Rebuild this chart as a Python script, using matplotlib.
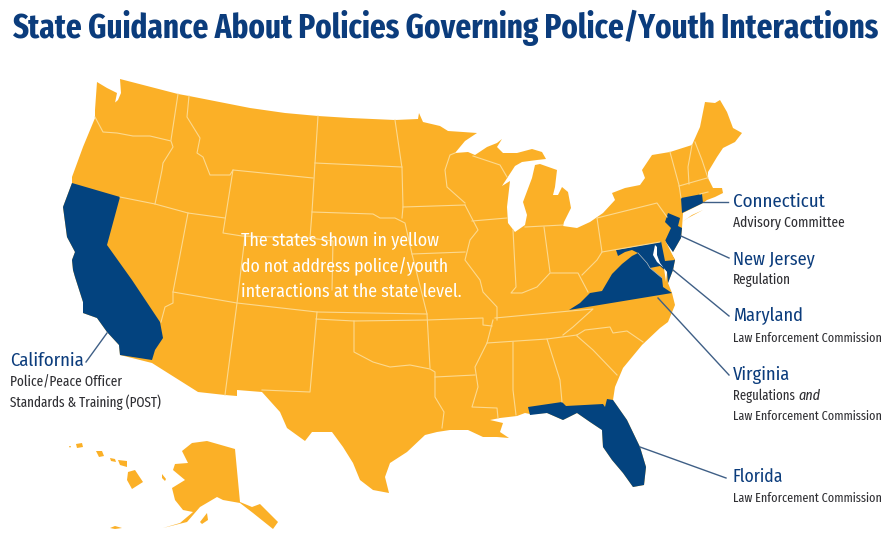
import matplotlib
matplotlib.use("Agg")
import matplotlib.pyplot as plt
from matplotlib import font_manager

YELLOW = "#fbb027"
BLUE = "#03437f"
BORDER = "#fbd98f"
DARK = "#2f2f33"
TITLE_BLUE = "#0b3c7c"

# outlines in image pixels
lower48 = [(97,82),(107,88),(117,93),(115,103),(110,107),(118,100),(121,93),(120,79),(178,94),(189,96),(250,108),
    (285,113),(318,116),(350,118),(395,120),(418,119),(419,113),(423,122),(440,126),(448,131),(463,132),(477,133),(465,141),
    (455,153),(468,152),(475,155),(487,147),(497,143),(502,139),(497,147),(503,153),(517,153),(532,149),(542,152),
    (546,159),(537,160),(522,162),(515,166),(502,186),(510,181),(507,207),(508,223),(515,232),(525,225),(527,215),
    (523,202),(532,178),(535,165),(540,164),(557,170),(555,187),(553,195),(558,195),(562,187),(568,192),(571,208),
    (564,222),(563,226),(577,228),(590,222),(603,213),(615,200),(612,193),(625,188),(640,185),(645,178),(642,170),
    (652,155),(670,152),(692,145),(700,127),(705,102),(715,103),(720,100),(727,112),(733,128),(742,133),(735,142),
    (723,148),(717,157),(708,172),(708,178),(713,188),(722,188),(723,193),(715,197),(707,200),(703,203),(683,213),
    (682,228),(681,238),(673,252),(666,241),(663,241),(675,260),(673,270),(668,283),(672,293),(675,305),
    (668,322),(660,328),(642,345),(623,368),(615,387),(613,400),(627,420),(640,447),(646,467),(644,485),(633,487),
    (623,473),(612,460),(603,447),(602,430),(590,422),(577,413),(563,420),(547,413),(530,414),(525,413),(517,416),
    (500,418),(490,420),(503,423),(500,432),(509,438),(497,437),(483,437),(468,430),(450,430),(437,432),(425,435),
    (407,452),(390,463),(385,477),(389,493),(373,490),(360,480),(353,463),(343,447),(332,432),(312,432),(305,441),
    (287,428),(280,412),(262,392),(237,390),(237,396),(225,395),(198,392),(152,363),(120,355),(119,345),(107,332),
    (97,318),(83,313),(83,302),(75,277),(73,270),(72,260),(75,252),(67,237),(63,207),(72,183),(72,177),(83,147),
    (95,118),(95,110)]
long_island = [(682,222),(692,215),(703,210),(688,218)]
alaska = [(182,451),(192,443),(207,441),(235,449),(240,502),(252,507),(260,504),(278,522),(273,529),(253,513),
    (240,503),(223,500),(217,497),(200,507),(187,522),(163,528),(180,523),(193,512),(183,510),(175,500),(172,488),
    (185,480),(173,470),(175,464),(188,463)]
kodiak = [(200,522),(207,513),(208,520),(202,524)]
nunivak = [(162,474),(166,479),(165,481),(162,478)]
aleutians = [(110,528),(115,526),(122,528),(115,529)]
hawaii = [(128,472),(135,470),(143,482),(132,489),(127,480)]
maui = [(118,460),(127,461),(127,467),(120,465)]
molokai = [(110,458),(115,459),(116,462),(111,461)]
oahu = [(96,451),(102,451),(104,456),(99,457)]
kauai = [(76,444),(82,443),(83,447),(77,448)]
niihau = [(69,446),(71,446),(70,448)]

california = [(72,183),(120,197),(107,245),(132,280),(160,322),(163,338),(155,350),(152,360),(120,355),(119,345),
    (107,332),(97,318),(83,313),(83,302),(75,277),(73,270),(72,260),(75,252),(67,237),(63,207),(72,183)]
florida = [(528,407),(562,402),(566,406),(603,404),(605,407),(607,399),(613,400),(627,420),(640,447),(646,467),
    (644,485),(633,487),(623,473),(612,460),(603,447),(602,430),(590,422),(577,413),(563,420),(547,413),(530,415)]
virginia = [(569,310),(580,303),(590,293),(602,291),(612,274),(622,264),(632,256),(638,253),(647,263),(650,268),
    (662,278),(663,287),(672,293)]
maryland = [(616,250),(660,242),(663,241),(675,260),(673,270),(668,283),(667,272),(660,266),(650,268),(647,263),
    (638,253),(632,250),(625,252),(618,256)]
delaware = [(661,241),(665,240),(675,260),(665,261)]
new_jersey = [(668,213),(680,218),(678,226),(682,228),(681,238),(673,252),(665,241),(671,228),(665,222)]
connecticut = [(681,198),(702,194),(703,203),(682,213)]
chesapeake = [(655,245),(653,255),(657,262),(664,268),(666,282),(667,272),(660,263),(657,255),(657,247)]

state_lines = [
    [(178,94),(171,140)],
    [(95,117),(103,132),(117,133),(133,136),(150,136),(171,141),(173,147),(163,163),(162,170),(155,204)],
    [(120,197),(155,204),(188,213),(225,218)],
    [(189,96),(187,117),(200,138),(197,153),(203,157),(210,175),(230,175),(233,170),(313,178)],
    [(233,170),(223,233),(242,236),(310,238)],
    [(318,116),(315,163),(312,212),(310,238),(333,241),(332,290)],
    [(188,213),(173,292),(173,303),(165,307),(161,322)],
    [(173,292),(237,303),(317,312),(427,314)],
    [(245,236),(237,303),(225,395)],
    [(317,312),(310,392),(262,390)],
    [(316,319),(354,321),(427,320),(483,318),(483,325),(492,326)],
    [(315,163),(402,167)],
    [(312,212),(373,214),(380,218),(395,218),(405,223),(412,254),(427,314),(430,368)],
    [(395,120),(402,168),(403,207),(402,218)],
    [(403,207),(465,205)],
    [(354,321),(354,352),(373,362),(390,367),(410,365),(430,369),(435,372),(435,397),(444,412),(442,428)],
    [(435,377),(475,375)],
    [(493,320),(487,343),(475,367),(478,387),(472,407),(497,408),(498,418)],
    [(487,343),(547,339),(577,335)],
    [(495,318),(570,311),(593,309),(573,327),(563,335)],
    [(577,335),(585,330),(610,327),(613,333),(627,331),(643,342)],
    [(577,336),(593,350),(617,375)],
    [(513,342),(513,390),(516,415)],
    [(547,339),(560,380),(562,402)],
    [(412,254),(465,252)],
    [(465,205),(478,230),(470,240),(465,260),(480,280),(483,292),(497,307),(497,320)],
    [(455,153),(450,155),(445,170),(447,187),(465,203)],
    [(472,221),(507,218)],
    [(473,156),(500,165),(507,177)],
    [(513,230),(516,287),(511,293),(522,293),(537,287),(550,273),(567,273),(578,273),(588,292)],
    [(544,227),(550,272)],
    [(525,227),(563,225)],
    [(597,218),(602,252),(597,260),(582,275)],
    [(597,218),(657,203),(667,217)],
    [(602,252),(660,242)],
    [(670,152),(679,185),(681,198)],
    [(679,186),(707,178)],
    [(692,145),(688,167),(689,184)],
    [(695,142),(702,160),(708,178)],
    [(700,194),(708,192)],
]

state_names = ["Connecticut", "New Jersey", "Maryland", "Virginia", "Florida"]
name_y = [202, 259, 316, 375, 477]
name_width = [92, 82, 70, 57, 50]
state_notes = [["Advisory Committee"], ["Regulation"], ["Law Enforcement Commission"],
    ["Regulations", "Law Enforcement Commission"], ["Law Enforcement Commission"]]
note_y = [[223], [280], [338], [396, 416], [498]]
note_width = [[112], [58], [149], [62, 149], [149]]
leaders = [[(703,202),(728,202)], [(681,236),(729,258)], [(673,270),(729,316)], [(658,298),(729,375)],
    [(640,447),(726,478)], [(107,333),(86,362)]]
white_lines = ["The states shown in yellow", "do not address police/youth", "interactions at the state level."]
white_y = [241, 267, 292]
white_width = [198, 208, 220]


def pick_font(names):
    # first of these that is installed, fit shrinks the plain one if none is
    installed = {f.name for f in font_manager.fontManager.ttflist}
    for name in names:
        if name in installed:
            return name
    return "Liberation Sans"


narrow = pick_font(["Fira Sans Condensed", "Asap Condensed", "Liberation Sans Narrow"])
tighter = pick_font(["Fira Sans Extra Condensed", "Barlow Condensed", "Asap Condensed", "Liberation Sans Narrow"])

fig = plt.figure(figsize=(8.93, 5.42), dpi=100)
ax = fig.add_axes([0, 0, 1, 1])
ax.set_xlim(0, 893)
ax.set_ylim(542, 0)
ax.axis("off")


def fit(x, y, s, width, color, font=narrow, **kw):
    # set the font size so the text is as wide as in the picture
    t = ax.text(x, y, s, family=font, fontsize=10, color=color, va="center", **kw)
    box = t.get_window_extent(fig.canvas.get_renderer())
    t.set_fontsize(10 * width / box.width)
    return t


for shape in [lower48, long_island, alaska, kodiak, nunivak, aleutians, hawaii, maui, molokai, oahu, kauai, niihau]:
    ax.fill(*zip(*shape), color=YELLOW, lw=0)
for line in state_lines:
    ax.plot(*zip(*line), color=BORDER, lw=0.8, solid_joinstyle="round")
for shape in [california, florida, virginia, maryland, new_jersey, connecticut]:
    ax.fill(*zip(*shape), color=BLUE, lw=0)
ax.fill(*zip(*delaware), color=YELLOW, lw=0)
ax.fill(*zip(*chesapeake), color="white", lw=0)
ax.plot([638,647,650,662], [253,263,268,278], color="#9fb4c9", lw=0.5)

for line in leaders:
    ax.plot(*zip(*line), color="#3f5f86", lw=1)

fit(12, 28, "State Guidance About Policies Governing Police/Youth Interactions", 868, TITLE_BLUE,
    font=tighter, fontweight="bold")

for name, y, w, notes, ys, ws in zip(state_names, name_y, name_width, state_notes, note_y, note_width):
    fit(733, y, name, w, TITLE_BLUE)
    for note, ny, nw in zip(notes, ys, ws):
        fit(733, ny, note, nw, DARK, font=tighter)
fit(798, 396, "and", 22, DARK, font=tighter, fontstyle="italic")

fit(10, 361, "California", 73, TITLE_BLUE)
fit(10, 382, "Police/Peace Officer", 111, DARK, font=tighter)
fit(10, 402, "Standards & Training (POST)", 152, DARK, font=tighter)

for line, y, w in zip(white_lines, white_y, white_width):
    fit(241, y, line, w, "white")

fig.savefig("out.png", dpi=100)
